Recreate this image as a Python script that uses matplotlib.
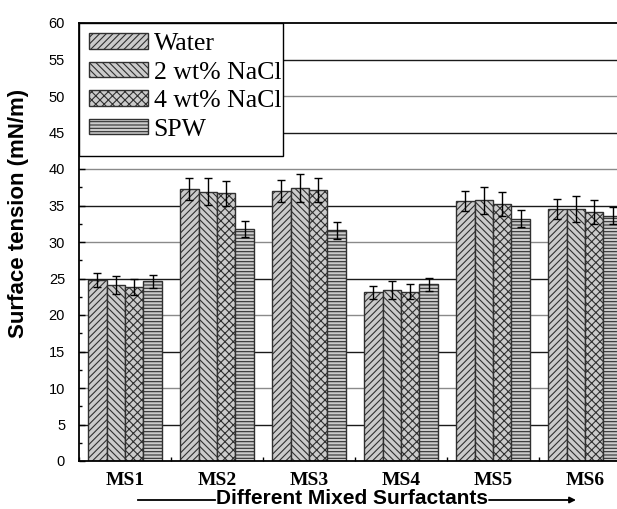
import numpy as np
import matplotlib
matplotlib.use('Agg')
import matplotlib.pyplot as plt
from matplotlib.patches import Rectangle
from matplotlib.ticker import MultipleLocator, FixedLocator

# Surface tension values.
groups = ['MS1', 'MS2', 'MS3', 'MS4', 'MS5', 'MS6']
series = ['Water', '2 wt% NaCl', '4 wt% NaCl', 'SPW']
water = [24.8, 37.2, 37.0, 23.1, 35.6, 34.5]
nacl2 = [24.1, 36.9, 37.4, 23.4, 35.7, 34.5]
nacl4 = [23.9, 36.7, 37.1, 23.2, 35.2, 34.1]
spw = [24.6, 31.8, 31.6, 24.2, 33.2, 33.6]
water_err = [0.9, 1.5, 1.5, 0.9, 1.4, 1.4]
nacl2_err = [1.2, 1.8, 1.9, 1.2, 1.8, 1.8]
nacl4_err = [1.1, 1.7, 1.6, 1.0, 1.6, 1.6]
spw_err = [0.9, 1.1, 1.2, 0.9, 1.2, 1.2]
hatches = ['/////', '\\\\\\\\\\', 'xxxx', '-----']

values = [water, nacl2, nacl4, spw]
errors = [water_err, nacl2_err, nacl4_err, spw_err]

plt.rcParams['hatch.linewidth'] = 0.8
sans = 'Liberation Sans'
serif = 'Liberation Serif'

fig = plt.figure(figsize=(6.17, 5.09), dpi=100)
# axes runs past the right edge, like the cropped original
ax = fig.add_axes([79 / 617, 48 / 509, 552 / 617, 438 / 509])

x = np.arange(len(groups))
width = 0.2
for i, (vals, errs) in enumerate(zip(values, errors)):
    pos = x - 1.5 * width + i * width
    ax.bar(pos, vals, width, color='#cbcbcb', edgecolor='#303030',
           linewidth=1.0, hatch=hatches[i], label=series[i], zorder=2)
    ax.errorbar(pos, vals, yerr=errs, fmt='none', ecolor='black',
                elinewidth=1.0, capsize=3, capthick=1.0, zorder=3)

# alternating black / grey horizontal grid lines
for v in range(5, 60, 5):
    ax.axhline(v, color='#1a1a1a' if v % 10 else '#8a8a8a', lw=1.0, zorder=0)

ax.set_xlim(-0.5, 5.5)
ax.set_ylim(0, 60)
ax.yaxis.set_major_locator(MultipleLocator(5))
ax.yaxis.set_minor_locator(MultipleLocator(2.5))
ax.set_xticks(x)
ax.set_xticklabels(groups, fontfamily=serif, fontweight='bold', fontsize=14)
ax.xaxis.set_minor_locator(FixedLocator(np.arange(-0.5, 6, 1.0)))
ax.tick_params(axis='x', which='major', length=0, pad=8)
ax.tick_params(axis='x', which='minor', direction='in', length=3, width=1)
ax.tick_params(axis='y', which='both', direction='in', width=1)
ax.tick_params(axis='y', which='major', length=4, labelsize=10.5, pad=10)
ax.tick_params(axis='y', which='minor', length=2.5)
for lab in ax.get_yticklabels():
    lab.set_fontfamily(sans)

for s in ['left', 'bottom', 'top']:
    ax.spines[s].set_color('black')
    ax.spines[s].set_linewidth(1.3)
ax.spines['right'].set_visible(False)

ax.set_ylabel('Surface tension (mN/m)', fontfamily=sans, fontweight='bold',
              fontsize=16)
ax.yaxis.set_label_coords(-0.09, 0.565)

# legend without its own frame; the box is drawn tight on the right side
leg = ax.legend(loc='upper left', bbox_to_anchor=(0, 1), borderaxespad=0,
                prop={'family': serif, 'size': 18.5}, frameon=False,
                handlelength=2.3, handleheight=0.55, handletextpad=0.2,
                labelspacing=0.25, borderpad=0.4)
leg.set_zorder(5)
box = Rectangle((0, (461 - 156) / 438), (283 - 79) / 552, 1 - (461 - 156) / 438,
                transform=ax.transAxes, facecolor='white', edgecolor='black',
                lw=1.0, zorder=4)
ax.add_patch(box)

# x label with the long arrow on either side
fig.text(352 / 617, 1 - 508 / 509, 'Different Mixed Surfactants',
         ha='center', va='bottom', fontfamily=sans, fontweight='bold', fontsize=15)
fig.add_artist(plt.Line2D([138 / 617, 215 / 617], [1 - 500 / 509] * 2,
                          color='black', lw=1.3))
ax.annotate('', xy=(576 / 617, 1 - 500 / 509), xytext=(489 / 617, 1 - 500 / 509),
            xycoords='figure fraction', textcoords='figure fraction',
            arrowprops=dict(arrowstyle='-|>', color='black', lw=1.3,
                            mutation_scale=9, shrinkA=0, shrinkB=0))

fig.savefig('out.png', dpi=100)
